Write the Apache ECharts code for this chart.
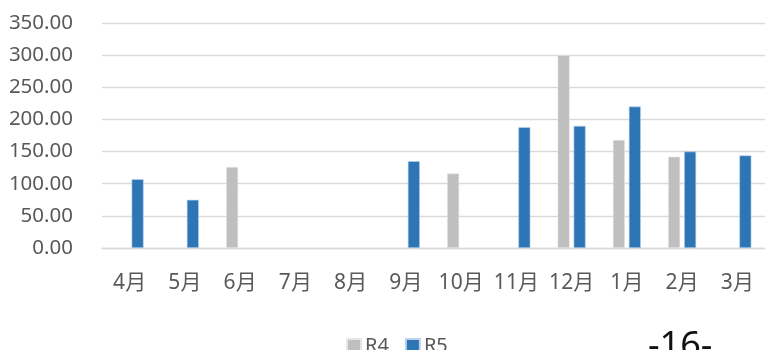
<!DOCTYPE html>
<html>
<head>
<meta charset="utf-8">
<script src="https://cdn.jsdelivr.net/npm/echarts@6/dist/echarts.min.js"></script>
<style>
  html, body { margin: 0; padding: 0; background: #fff; }
  #chart { width: 765px; height: 350px; }
</style>
</head>
<body>
<div id="chart"></div>
<script>
// Monthly values for fiscal years R4 and R5 (null = no value that month)
const months = ['4月', '5月', '6月', '7月', '8月', '9月', '10月', '11月', '12月', '1月', '2月', '3月'];
const r4Values = [null, null, 126, null, null, null, 116, null, 300, 168, 142, null];
const r5Values = [107, 75, null, null, null, 135, null, 188, 190, 220, 150, 144];
const yTicks = { min: 0, max: 350, interval: 50 };
const pageLabel = '-16-';

const FONT = '"Noto Sans", "Noto Sans CJK JP", sans-serif';
const chart = echarts.init(document.getElementById('chart'), null, { renderer: 'canvas' });

chart.setOption({
  animation: false,
  grid: { left: 102, right: 0, top: 23, bottom: 102, containLabel: false },
  legend: {
    data: ['R4', 'R5'],
    left: 346,
    top: 336,
    itemWidth: 14,
    itemHeight: 14,
    itemGap: 16,
    icon: 'rect',
    textStyle: { fontFamily: FONT, fontSize: 20, color: '#595959', padding: [0, 0, 0, -1] },
    padding: 0
  },
  xAxis: {
    type: 'category',
    data: months,
    axisLine: { show: true, lineStyle: { color: '#D9D9D9', width: 1.3 } },
    axisTick: { show: false },
    axisLabel: { interval: 0, fontFamily: FONT, fontSize: 21, color: '#595959', margin: 25 }
  },
  yAxis: {
    type: 'value',
    min: yTicks.min,
    max: yTicks.max,
    interval: yTicks.interval,
    axisLine: { show: false },
    axisTick: { show: false },
    splitLine: { lineStyle: { color: '#D9D9D9', width: 1.3 } },
    axisLabel: {
      fontFamily: FONT, fontSize: 20.5, color: '#595959', margin: 29,
      formatter: v => v.toFixed(2)
    }
  },
  series: [
    {
      name: 'R4', type: 'bar', data: r4Values,
      barWidth: 12, barGap: '33%',
      itemStyle: { color: '#BFBFBF', borderColor: '#E6E6E6', borderWidth: 0.6 }
    },
    {
      name: 'R5', type: 'bar', data: r5Values,
      barWidth: 12, barGap: '33%',
      itemStyle: { color: '#2E75B6', borderColor: '#BCD3EA', borderWidth: 0.6 }
    }
  ],
  graphic: [
    {
      type: 'text',
      left: 648,
      top: 329,
      style: { text: pageLabel, fontFamily: FONT, fontSize: 36, fill: '#111' }
    }
  ]
});
</script>
</body>
</html>
